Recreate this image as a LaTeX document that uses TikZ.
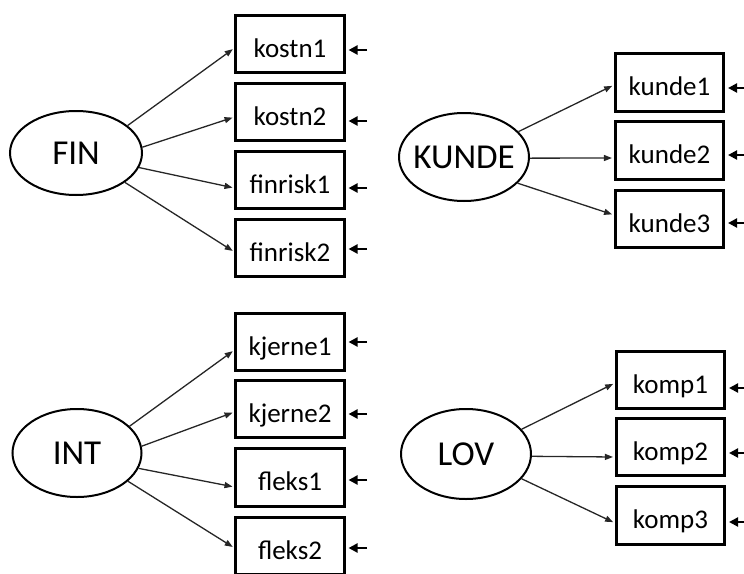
\documentclass[tikz,border=0pt]{standalone}
\usepackage{fontspec}
\setmainfont{Carlito}
\usetikzlibrary{arrows.meta,shapes.geometric}
\begin{document}
\begin{tikzpicture}[x=1pt,y=-1pt,
  latent/.style={draw, ellipse, line width=2pt, inner sep=0pt,
    font=\fontsize{35}{40}\selectfont},
  obs/.style={draw, rectangle, line width=2.6pt, inner xsep=0pt, inner ysep=0pt,
    minimum width=108.5pt, text height=41.75pt, text depth=15.75pt,
    font=\fontsize{27}{30}\selectfont},
  load/.style={draw=black!85, line width=1.3pt,
    -{Triangle[length=8pt,width=6pt]}, shorten >=2pt},
  err/.style={line width=2.2pt, -{Triangle[length=9pt,width=9pt]}, shorten >=3pt}]

\useasboundingbox (0,0) rectangle (744,573);
\clip (0,0) rectangle (744,573);

% ---------- FIN ----------
\node[latent, minimum width=132pt, minimum height=84pt] (FIN) at (76,153) {\makebox[0pt]{FIN}};
\node[obs] (kostn1)   at (290,44)  {kostn1};
\node[obs] (kostn2)   at (290,112) {kostn2};
\node[obs] (finrisk1) at (290,180) {finrisk1};
\node[obs] (finrisk2) at (290,248) {finrisk2};

\draw[load] (FIN.28)  -- ([yshift=-4pt]kostn1.west);
\draw[load] (FIN.5)   -- ([yshift=-5pt]kostn2.west);
\draw[load] (FIN.-13) -- ([yshift=-8pt]finrisk1.west);
\draw[load] (FIN.-31) -- ([yshift=-4pt]finrisk2.west);

\coordinate (eF1) at (367,50);
\coordinate (eF2) at (367,121);
\coordinate (eF3) at (367,188);
\coordinate (eF4) at (367,249);
\draw[err] (eF1) -- (kostn1.east |- eF1);
\draw[err] (eF2) -- (kostn2.east |- eF2);
\draw[err] (eF3) -- (finrisk1.east |- eF3);
\draw[err] (eF4) -- (finrisk2.east |- eF4);

% ---------- KUNDE ----------
\node[latent, minimum width=130pt, minimum height=88pt] (KUNDE) at (464,157) {\makebox[0pt]{KUNDE}};
\node[obs] (kunde1) at (669.5,82.5)  {kunde1};
\node[obs] (kunde2) at (669.5,150.5) {kunde2};
\node[obs] (kunde3) at (669.5,219)   {kunde3};

\draw[load] (KUNDE.25)  -- ([yshift=-2.5pt]kunde1.west);
\draw[load] (KUNDE.-1)  -- ([yshift=-7.5pt]kunde2.west);
\draw[load] (KUNDE.-26) -- ([yshift=4pt]kunde3.west);

\coordinate (eK1) at (748,88);
\coordinate (eK2) at (748,155);
\coordinate (eK3) at (748,223);
\draw[err] (eK1) -- (kunde1.east |- eK1);
\draw[err] (eK2) -- (kunde2.east |- eK2);
\draw[err] (eK3) -- (kunde3.east |- eK3);

% ---------- INT ----------
\node[latent, minimum width=129pt, minimum height=88pt] (INT) at (77,453) {\makebox[0pt]{INT}};
\node[obs] (kjerne1) at (290,342)   {kjerne1};
\node[obs] (kjerne2) at (290,409)   {kjerne2};
\node[obs] (fleks1)  at (290,477.5) {fleks1};
\node[obs] (fleks2)  at (290,546)   {fleks2};

\draw[load] (INT.27)  -- ([yshift=-8pt]kjerne1.west);
\draw[load] (INT.6)   -- ([yshift=-3pt]kjerne2.west);
\draw[load] (INT.-14) -- ([yshift=-9.5pt]fleks1.west);
\draw[load] (INT.-29) -- ([yshift=-2pt]fleks2.west);

\coordinate (eI1) at (367,342);
\coordinate (eI2) at (367,414);
\coordinate (eI3) at (367,480);
\coordinate (eI4) at (367,548);
\draw[err] (eI1) -- (kjerne1.east |- eI1);
\draw[err] (eI2) -- (kjerne2.east |- eI2);
\draw[err] (eI3) -- (fleks1.east |- eI3);
\draw[err] (eI4) -- (fleks2.east |- eI4);

% ---------- LOV ----------
\node[latent, minimum width=130pt, minimum height=90pt] (LOV) at (466,454) {\makebox[0pt]{LOV}};
\node[obs] (komp1) at (670.5,380)   {komp1};
\node[obs] (komp2) at (670.5,447)   {komp2};
\node[obs] (komp3) at (670.5,515.5) {komp3};

\draw[load] (LOV.24)  -- ([yshift=-3pt]komp1.west);
\draw[load] (LOV.-2)  -- ([yshift=-10pt]komp2.west);
\draw[load] (LOV.-24) -- ([yshift=-7.5pt]komp3.west);

\coordinate (eL1) at (748,388);
\coordinate (eL2) at (748,453);
\coordinate (eL3) at (748,522);
\draw[err] (eL1) -- (komp1.east |- eL1);
\draw[err] (eL2) -- (komp2.east |- eL2);
\draw[err] (eL3) -- (komp3.east |- eL3);

\end{tikzpicture}
\end{document}
